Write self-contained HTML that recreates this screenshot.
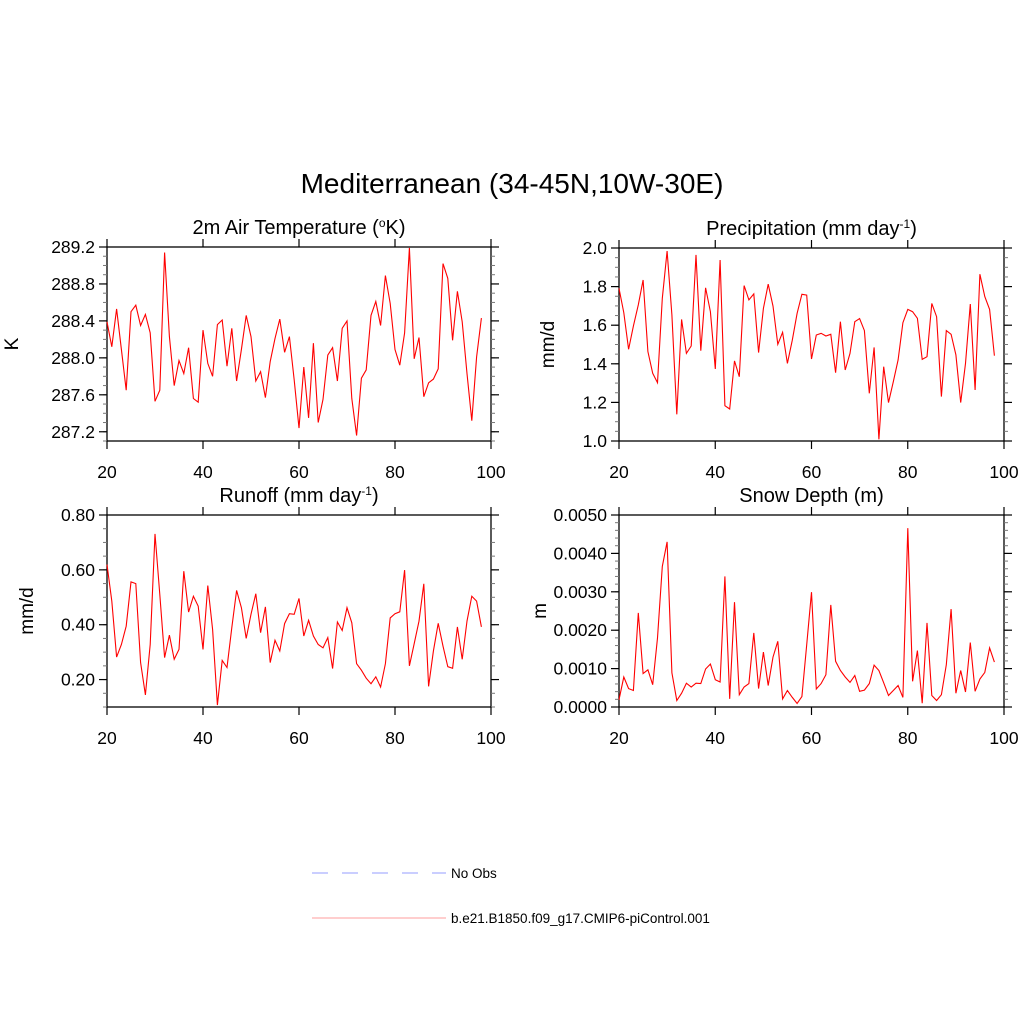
<!DOCTYPE html>
<html><head><meta charset="utf-8"><style>
html,body{margin:0;padding:0;background:#fff;}
svg{display:block;font-family:"Liberation Sans",Arial,sans-serif;}
</style></head><body>
<svg id="chart" width="1024" height="1024" viewBox="0 0 1024 1024" xmlns="http://www.w3.org/2000/svg">
<rect width="1024" height="1024" fill="#fff"/>
<text x="512" y="193" font-size="28" text-anchor="middle">Mediterranean (34-45N,10W-30E)</text>
<g>
<line x1="312" y1="873" x2="446" y2="873" stroke="#aab0ff" stroke-width="1.3" stroke-dasharray="16,14"/>
<text x="451" y="878" font-size="13.5">No Obs</text>
<line x1="312" y1="918" x2="446" y2="918" stroke="#ffb0b0" stroke-width="1.3"/>
<text x="451" y="923" font-size="13.5">b.e21.B1850.f09_g17.CMIP6-piControl.001</text>
</g>
</svg>
<script>
const years = [];
for (let y = 20; y <= 98; y++) years.push(y);
const xTicks = [20, 40, 60, 80, 100];
const tempValues = [288.39,288.12,288.53,288.09,287.65,288.50,288.57,288.35,288.47,288.27,
287.53,287.65,289.14,288.23,287.70,287.97,287.83,288.11,287.56,287.52,
288.30,287.94,287.80,288.36,288.41,287.91,288.32,287.75,288.09,288.46,
288.23,287.75,287.85,287.57,287.96,288.21,288.42,288.06,288.23,287.76,
287.24,287.90,287.35,288.16,287.30,287.55,288.03,288.11,287.75,288.32,
288.40,287.56,287.16,287.78,287.87,288.46,288.61,288.35,288.89,288.59,
288.09,287.92,288.27,289.19,287.99,288.22,287.58,287.73,287.77,287.88,
289.02,288.86,288.19,288.72,288.39,287.83,287.32,288.01,288.43];
const tempTicks = ["287.2","287.6","288.0","288.4","288.8","289.2"];
const precipValues = [1.791,1.665,1.475,1.596,1.705,1.834,1.463,1.351,1.302,1.739,
1.984,1.653,1.138,1.630,1.454,1.492,1.964,1.468,1.794,1.670,
1.373,1.938,1.183,1.166,1.415,1.333,1.805,1.731,1.762,1.458,
1.687,1.813,1.699,1.501,1.563,1.402,1.523,1.661,1.760,1.756,
1.425,1.549,1.558,1.544,1.553,1.354,1.618,1.368,1.454,1.618,
1.634,1.572,1.247,1.485,1.009,1.385,1.199,1.307,1.420,1.613,
1.682,1.670,1.636,1.423,1.437,1.713,1.644,1.230,1.572,1.553,
1.446,1.199,1.402,1.710,1.264,1.864,1.748,1.682,1.442];
const precipTicks = ["1.0","1.2","1.4","1.6","1.8","2.0"];
const runoffValues = [0.619,0.486,0.282,0.328,0.395,0.556,0.550,0.262,0.144,0.328,
0.731,0.510,0.280,0.362,0.274,0.310,0.595,0.446,0.504,0.468,
0.310,0.543,0.383,0.107,0.270,0.244,0.389,0.525,0.462,0.350,
0.438,0.513,0.371,0.465,0.262,0.343,0.304,0.404,0.440,0.438,
0.496,0.359,0.416,0.359,0.328,0.316,0.353,0.240,0.410,0.379,
0.462,0.407,0.258,0.234,0.205,0.185,0.210,0.173,0.258,0.425,
0.440,0.447,0.599,0.250,0.331,0.413,0.549,0.175,0.304,0.405,
0.322,0.247,0.241,0.392,0.274,0.413,0.504,0.486,0.392];
const runoffTicks = ["0.20","0.40","0.60","0.80"];
const snowValues = [0.00019,0.00078,0.00048,0.00043,0.00245,0.00087,0.00097,0.00058,0.00180,0.00366,
0.00430,0.00089,0.00017,0.00036,0.00062,0.00052,0.00062,0.00061,0.00099,0.00112,
0.00071,0.00065,0.00340,0.00021,0.00273,0.00032,0.00052,0.00061,0.00193,0.00048,
0.00143,0.00056,0.00130,0.00171,0.00021,0.00043,0.00025,0.00009,0.00027,0.00162,
0.00299,0.00047,0.00061,0.00084,0.00266,0.00119,0.00095,0.00078,0.00064,0.00082,
0.00041,0.00044,0.00061,0.00109,0.00095,0.00063,0.00030,0.00043,0.00056,0.00025,
0.00466,0.00067,0.00147,0.00010,0.00219,0.00030,0.00017,0.00032,0.00110,0.00255,
0.00036,0.00095,0.00039,0.00168,0.00041,0.00073,0.00090,0.00154,0.00117];
const snowTicks = ["0.0000","0.0010","0.0020","0.0030","0.0040","0.0050"];

const NS = "http://www.w3.org/2000/svg";
const svg = document.getElementById("chart");
function mk(tag, attrs, parent) {
  const e = document.createElementNS(NS, tag);
  for (const k in attrs) e.setAttribute(k, attrs[k]);
  (parent || svg).appendChild(e);
  return e;
}
function panel(cfg) {
  const g = mk("g", {});
  
  
  const L = cfg.x0, R = cfg.x1, T = cfg.y0, B = cfg.y1;
  const xs = v => L + (v - 20) / 80 * (R - L);
  const ys = v => B - (v - cfg.ymin) / (cfg.ymax - cfg.ymin) * (B - T);
  const frame = mk("rect", {x: L, y: T, width: R - L, height: B - T, fill: "none", stroke: "#000", "stroke-width": 1.3}, g);
  
  
  for (let v = cfg.ymin; v <= cfg.ymax + 1e-9; v += cfg.minor) {
    const y = ys(v);
    if (y < T - 0.5) continue;
    mk("line", {x1: L - 4, x2: L, y1: y, y2: y, stroke: "#777", "stroke-width": 1}, g);
    mk("line", {x1: R, x2: R + 4, y1: y, y2: y, stroke: "#777", "stroke-width": 1}, g);
  }
  cfg.ticks.forEach(t => {
    const v = parseFloat(t), y = ys(v);
    mk("line", {x1: L - 8, x2: L, y1: y, y2: y, stroke: "#000", "stroke-width": 1.2}, g);
    mk("line", {x1: R, x2: R + 8, y1: y, y2: y, stroke: "#000", "stroke-width": 1.2}, g);
    const tx = mk("text", {x: L - 12, y: y + 6, "font-size": 17.5, "text-anchor": "end"}, g);
    
    
    tx.textContent = t;
  });
  xTicks.forEach(t => {
    const x = xs(t);
    mk("line", {x1: x, x2: x, y1: B, y2: B + 8, stroke: "#000", "stroke-width": 1.2}, g);
    mk("line", {x1: x, x2: x, y1: T - 8, y2: T, stroke: "#000", "stroke-width": 1.2}, g);
    const tx = mk("text", {x: x, y: B + 37, "font-size": 17.5, "text-anchor": "middle"}, g);
    
    
    tx.textContent = String(t);
  });
  const pts = cfg.values.map((v, i) => xs(years[i]).toFixed(1) + "," + ys(v).toFixed(1)).join(" ");
  const line = mk("polyline", {points: pts, fill: "none", stroke: "#ff0000", "stroke-width": 1.1}, g);
  
  
  const title = mk("text", {x: (L + R) / 2, y: T - 13, "font-size": 20, "text-anchor": "middle"}, g);
  
  
  title.innerHTML = cfg.title;
  const yl = mk("text", {x: cfg.ylx, y: (T + B) / 2, "font-size": 19, "text-anchor": "middle", transform: `rotate(-90 ${cfg.ylx} ${(T + B) / 2})`}, g);
  
  
  yl.textContent = cfg.ylabel;
}
panel({name: "temperature-panel", x0: 107, x1: 491, y0: 247, y1: 441, ymin: 287.1, ymax: 289.2, minor: 0.1,
  ticks: tempTicks, values: tempValues, ylabel: "K", ylx: 18,
  title: '2m Air Temperature (<tspan dy="-7" font-size="12">o</tspan><tspan dy="7">K)</tspan>'});
panel({name: "precipitation-panel", x0: 619, x1: 1004, y0: 248, y1: 441, ymin: 1.0, ymax: 2.0, minor: 0.05,
  ticks: precipTicks, values: precipValues, ylabel: "mm/d", ylx: 554,
  title: 'Precipitation (mm day<tspan dy="-7" font-size="12">-1</tspan><tspan dy="7">)</tspan>'});
panel({name: "runoff-panel", x0: 107, x1: 491, y0: 515, y1: 707, ymin: 0.1, ymax: 0.8, minor: 0.05,
  ticks: runoffTicks, values: runoffValues, ylabel: "mm/d", ylx: 33,
  title: 'Runoff (mm day<tspan dy="-7" font-size="12">-1</tspan><tspan dy="7">)</tspan>'});
panel({name: "snow-depth-panel", x0: 619, x1: 1004, y0: 515, y1: 707, ymin: 0, ymax: 0.005, minor: 0.0002,
  ticks: snowTicks, values: snowValues, ylabel: "m", ylx: 546,
  title: 'Snow Depth (m)'});
</script>
</body></html>
